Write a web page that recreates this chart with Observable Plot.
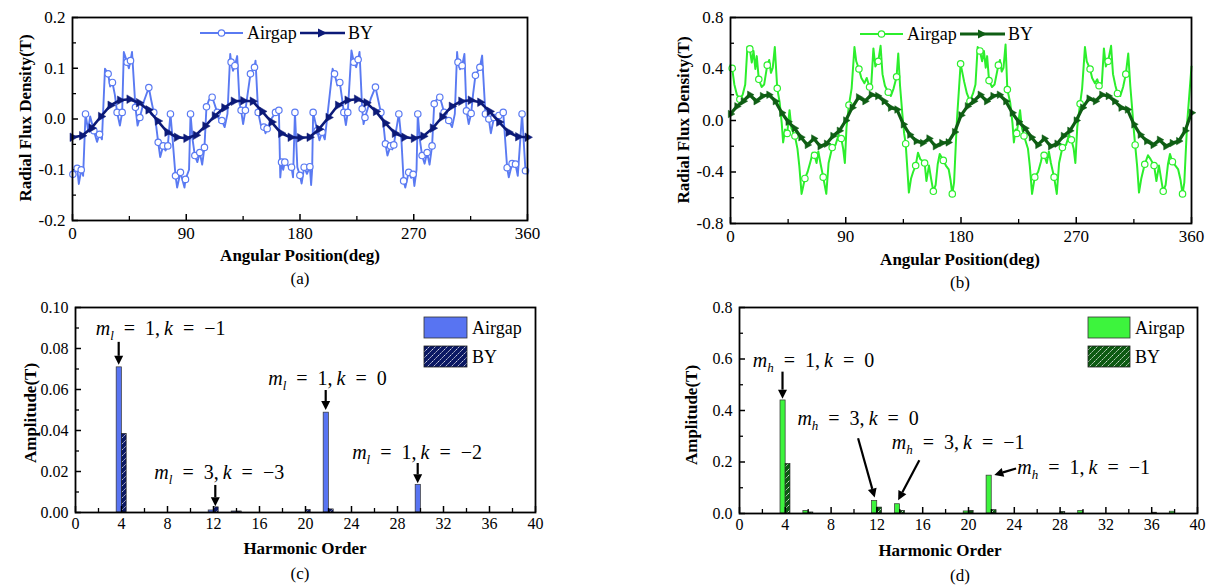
<!DOCTYPE html>
<html><head><meta charset="utf-8">
<script src="https://cdn.jsdelivr.net/npm/d3@7"></script>
<script src="https://cdn.jsdelivr.net/npm/@observablehq/plot@0.6"></script>
<style>
body{margin:0;background:#fff;}
#wrap{position:relative;width:1215px;height:586px;overflow:hidden;font-family:"Liberation Serif","Times New Roman",serif;color:#000;background:#fff;}
.lab{position:absolute;font-weight:bold;font-size:17px;white-space:nowrap;transform:translate(-50%,-50%);}
.ylab{position:absolute;font-weight:bold;font-size:17px;white-space:nowrap;transform:translate(-50%,-50%) rotate(-90deg);}
.cap{position:absolute;font-size:17px;white-space:nowrap;transform:translate(-50%,-50%);}
svg text.ser{font-family:"Liberation Serif","Times New Roman",serif;}
</style></head><body>
<svg width="0" height="0" style="position:absolute"><defs>
<pattern id="hatchNavy" patternUnits="userSpaceOnUse" width="6" height="6"><rect width="6" height="6" fill="#0b1864"/><path d="M0,6L6,0M-1.5,1.5L1.5,-1.5M4.5,7.5L7.5,4.5" stroke="#fff" stroke-width="0.8" stroke-dasharray="2,1"/></pattern>
<pattern id="hatchGreen" patternUnits="userSpaceOnUse" width="6" height="6"><rect width="6" height="6" fill="#0d5a12"/><path d="M0,6L6,0M-1.5,1.5L1.5,-1.5M4.5,7.5L7.5,4.5" stroke="#fff" stroke-width="0.8" stroke-dasharray="2,1"/></pattern>
</defs></svg>
<div id="wrap"></div>
<script>
// ---------------- DATA ----------------
const angleTicks = [0, 90, 180, 270, 360];
const angleMinor = [45, 135, 225, 315];
const fluxTicksA = [-0.2, -0.1, 0, 0.1, 0.2];
const fluxMinorA = [-0.15, -0.05, 0.05, 0.15];
const fluxTicksB = [-0.8, -0.4, 0, 0.4, 0.8];
const fluxMinorB = [-0.6, -0.2, 0.2, 0.6];
const harmonicTicks = [0, 4, 8, 12, 16, 20, 24, 28, 32, 36, 40];
const harmonicMinor = [2, 6, 10, 14, 18, 22, 26, 30, 34, 38];
const ampTicksC = [0, 0.02, 0.04, 0.06, 0.08, 0.10];
const ampMinorC = [0.01, 0.03, 0.05, 0.07, 0.09];
const ampTicksD = [0, 0.2, 0.4, 0.6, 0.8];
const ampMinorD = [0.1, 0.3, 0.5, 0.7];

// (a) Airgap radial flux density, marked samples [deg, T]
const airgapAMarks = [
 [0.3,-0.109],[3.7,-0.097],[6.9,-0.100],[10.3,0.010],[16.9,-0.023],[21.4,-0.030],[28.2,0.089],[31.6,0.072],[35.3,0.013],[39.3,0.013],[43.2,0.112],[45.9,0.115],[49.8,0.023],[53.3,0.003],[60.4,0.062],[64.3,0.013],[67.8,-0.046],[71.7,-0.053],[75.4,-0.053],[77.5,0.010],[81.5,-0.112],[85.4,-0.105],[89.4,-0.119],
 [93.4,0.010],[96.8,-0.072],[100.7,-0.066],[104.4,-0.056],[106.0,0.024],[110.5,0.043],[114.5,0.013],[118.2,-0.003],[125.5,0.112],[128.5,0.105],[133.4,0.017],[136.8,0.017],[140.8,0.089],[144.0,0.102],[146.9,0.013],[151.4,-0.016],[154.0,-0.019],[160.6,0.013],[163.3,0.017],[165.4,-0.085],[168.0,-0.085],[173.3,-0.095],[176.0,0.013],
 [179.9,-0.111],[183.3,-0.095],[187.8,-0.094],[190.4,0.013],[193.6,-0.023],[197.5,-0.026],[207.3,0.089],[211.5,0.072],[214.7,0.013],[217.8,0.013],[222.6,0.112],[226.0,0.117],[229.2,0.020],[231.4,0.003],[239.7,0.063],[244.0,0.013],[247.6,-0.049],[251.6,-0.053],[254.2,-0.051],[258.2,0.010],[262.0,-0.122],[266.0,-0.105],[269.5,-0.109],
 [273.2,0.010],[276.6,-0.072],[280.6,-0.066],[284.5,-0.053],[286.2,0.030],[290.6,0.043],[294.0,0.013],[297.7,-0.003],[305.0,0.112],[308.3,0.105],[311.7,0.016],[315.4,0.011],[318.8,0.086],[322.3,0.102],[326.7,0.010],[329.4,0.000],[333.5,0.003],[337.4,0.007],[340.8,0.013],[343.9,-0.096],[347.8,-0.088],[350.5,-0.089],[355.7,0.010],[358.4,-0.102]
];
// (a) Airgap, unmarked peaks/troughs between samples [deg, T]
const airgapAPeaks = [
 [5.0,-0.128],[8.4,-0.112],[12.3,-0.022],[14.0,0.005],[19.4,-0.045],[23.3,-0.040],[25.7,0.099],[29.8,0.064],[33.5,0.048],[37.5,-0.013],[40.6,0.132],[44.6,0.100],[47.1,0.132],[51.5,-0.013],[56.5,0.035],[62.2,0.038],[65.8,-0.005],[69.4,-0.075],[73.6,-0.062],[79.2,-0.040],[82.8,-0.135],[88.6,-0.135],[92.2,-0.100],
 [95.0,-0.040],[98.8,-0.085],[102.6,-0.090],[108.0,0.038],[112.3,0.030],[116.3,-0.006],[120.4,-0.016],[122.6,0.010],[124.8,0.128],[127.0,0.095],[130.3,0.124],[132.2,0.030],[135.0,-0.010],[138.6,0.050],[144.8,0.115],[149.0,-0.012],[152.7,-0.028],[157.3,0.000],[164.4,-0.115],[166.7,-0.100],[170.5,-0.092],[174.5,-0.115],[177.9,-0.095],
 [181.3,-0.127],[185.5,-0.108],[188.8,-0.130],[189.6,-0.100],[195.4,-0.042],[199.6,-0.040],[205.8,0.099],[209.6,0.066],[213.0,0.045],[216.3,-0.012],[220.7,0.135],[224.4,0.102],[227.1,0.132],[230.3,-0.010],[236.0,0.040],[242.0,0.036],[245.8,-0.005],[249.2,-0.072],[253.0,-0.060],[260.2,-0.040],[263.3,-0.135],[268.0,-0.116],[270.5,-0.132],[272.2,-0.100],
 [274.8,-0.040],[278.6,-0.088],[282.5,-0.090],[288.0,0.038],[292.2,0.030],[296.0,-0.006],[300.3,-0.016],[302.5,0.010],[304.3,0.132],[306.6,0.098],[310.1,0.128],[313.5,-0.010],[317.0,0.050],[324.1,0.125],[331.0,-0.028],[345.2,-0.115],[352.3,-0.112],[360.0,-0.108]
];
// (a) Back-yoke (BY) [deg, T]
const byA = [
 [0,-0.036],[7.5,-0.033],[15,-0.018],[22.5,0.005],[30,0.027],[37.5,0.037],[45,0.039],[52.5,0.032],[60,0.018],[67.5,-0.004],[75,-0.026],[82.5,-0.036],[90,-0.038],[97.5,-0.032],[105,-0.014],[112.5,0.006],[120,0.022],[127.5,0.035],[135,0.036],[142.5,0.035],[150,0.015],[157.5,-0.006],[165,-0.028],[172.5,-0.036],[180,-0.037],[187.5,-0.036],[195,-0.020],[202.5,0.003],[210,0.027],[217.5,0.037],[225,0.039],[232.5,0.032],[240,0.015],[247.5,-0.008],[255,-0.028],[262.5,-0.036],[270,-0.038],[277.5,-0.034],[285,-0.018],[292.5,0.004],[300,0.025],[307.5,0.035],[315,0.037],[322.5,0.033],[330,0.015],[337.5,-0.006],[345,-0.026],[352.5,-0.035],[360,-0.036]
];

// (b) Airgap, marked samples [deg, T]
const airgapBMarks = [
 [1.3,0.405],[7.3,0.165],[15.1,0.556],[22.1,0.32],[28.7,0.43],[36.5,0.25],[44.3,-0.10],[50.3,-0.12],[58.1,-0.45],[65.6,-0.27],[72.4,-0.44],[79.4,-0.21],[86.5,-0.14],
 [92.5,0.12],[100.3,0.40],[108.6,0.26],[115.4,0.46],[123.2,0.22],[129.7,0.34],[136.8,-0.18],[144.6,-0.35],[151.6,-0.33],[158.4,-0.55],[166.2,-0.31],[173.2,-0.57],
 [179.7,0.44],[187.0,0.15],[194.8,0.54],[201.9,0.31],[209.2,0.43],[216.2,0.24],[223.5,-0.10],[229.2,-0.12],[237.6,-0.44],[244.9,-0.27],[252.7,-0.44],[259.2,-0.21],[266.2,-0.15],
 [273.0,0.13],[280.8,0.40],[287.8,0.27],[294.9,0.46],[302.2,0.21],[308.7,0.36],[316.0,-0.19],[323.5,-0.34],[330.8,-0.35],[337.9,-0.55],[345.1,-0.32],[353.0,-0.57]
];
// (b) Airgap, unmarked peaks/troughs [deg, T]
const airgapBPeaks = [
 [0,0.43],[3.0,0.28],[5.0,0.20],[9.5,0.20],[11.5,0.28],[13.2,0.57],[16.6,0.45],[18.0,0.54],[19.4,0.40],[20.5,0.50],[24.3,0.26],[26.3,0.28],[30.2,0.47],[31.6,0.37],[33.0,0.41],[34.6,0.57],[38.4,0.14],[40.0,-0.02],[41.1,-0.17],[42.6,-0.07],[46.1,0.08],[47.6,-0.06],[52.3,-0.22],[53.8,-0.36],[55.5,-0.57],[60.2,-0.40],[62.4,-0.32],[64.2,-0.25],[67.2,-0.33],[68.6,-0.24],[70.2,-0.33],[74.8,-0.57],[76.6,-0.33],[82.0,-0.19],[84.4,-0.11],[88.0,-0.22],[89.3,-0.33],[90.6,-0.05],
 [94.6,0.25],[96.8,0.57],[98.2,0.46],[102.2,0.33],[104.6,0.29],[106.4,0.33],[110.0,0.29],[111.6,0.56],[113.1,0.42],[117.2,0.58],[118.7,0.36],[120.6,0.27],[125.2,0.19],[127.4,0.25],[131.0,0.52],[132.4,0.27],[134.2,0.05],[135.6,-0.10],[138.0,-0.36],[139.3,-0.56],[141.0,-0.45],[142.6,-0.40],[146.4,-0.25],[148.2,-0.30],[153.0,-0.47],[155.0,-0.35],[156.6,-0.45],[160.2,-0.50],[161.8,-0.34],[163.4,-0.26],[168.2,-0.35],[170.4,-0.38],[171.8,-0.46],[174.6,-0.48],[176.8,0.0],
 [182.5,0.30],[184.6,0.21],[189.4,0.21],[191.3,0.28],[193.0,0.57],[196.5,0.46],[197.9,0.54],[199.3,0.41],[200.4,0.50],[204.2,0.26],[206.2,0.28],[210.4,0.47],[211.8,0.38],[213.2,0.41],[214.8,0.59],[218.4,0.14],[220.2,-0.02],[221.3,-0.17],[222.6,-0.07],[226.1,0.08],[227.6,-0.06],[232.3,-0.22],[233.8,-0.36],[235.5,-0.57],[240.2,-0.40],[242.4,-0.32],[244.0,-0.25],[247.0,-0.33],[248.6,-0.24],[250.2,-0.33],[254.8,-0.57],[256.6,-0.33],[262.0,-0.19],[264.4,-0.11],[268.0,-0.22],[269.3,-0.33],[270.8,-0.05],
 [274.6,0.25],[276.8,0.57],[278.2,0.46],[282.4,0.33],[284.6,0.29],[286.4,0.32],[290.0,0.29],[291.6,0.56],[293.1,0.42],[297.2,0.58],[298.7,0.36],[300.6,0.27],[304.4,0.19],[306.6,0.26],[310.6,0.52],[312.2,0.27],[314.0,0.05],[315.0,-0.08],[317.6,-0.36],[319.0,-0.56],[320.8,-0.45],[322.0,-0.40],[326.0,-0.27],[328.0,-0.30],[332.6,-0.47],[334.6,-0.35],[336.2,-0.45],[339.8,-0.50],[341.6,-0.34],[343.2,-0.26],[347.4,-0.35],[349.6,-0.38],[351.4,-0.46],[354.4,-0.48],[356.6,-0.02],[360,0.42]
];
// (b) Back-yoke (BY) [deg, T]
const byB = [
 [0,0.05],[5,0.11],[10,0.15],[15,0.20],[20,0.15],[25,0.19],[30,0.20],[35,0.15],[40,0.06],[45,-0.01],[50,-0.06],[55,-0.13],[60,-0.19],[65,-0.14],[70,-0.20],[75,-0.18],[80,-0.12],[85,-0.08],[90,0.0],
 [95,0.10],[100,0.18],[105,0.15],[110,0.20],[115,0.19],[120,0.15],[125,0.10],[130,0.085],[135,-0.03],[140,-0.11],[145,-0.16],[150,-0.175],[155,-0.14],[160,-0.20],[165,-0.175],[170,-0.17],[175,-0.09],
 [180,0.04],[185,0.11],[190,0.15],[195,0.20],[200,0.15],[205,0.19],[210,0.20],[215,0.15],[220,0.06],[225,-0.01],[230,-0.06],[235,-0.13],[240,-0.19],[245,-0.14],[250,-0.20],[255,-0.18],[260,-0.12],[265,-0.08],[270,0.0],
 [275,0.10],[280,0.17],[285,0.15],[290,0.20],[295,0.19],[300,0.15],[305,0.10],[310,0.085],[315,-0.03],[320,-0.11],[325,-0.16],[330,-0.19],[335,-0.15],[340,-0.20],[345,-0.175],[350,-0.16],[355,-0.08],[360,0.06]
];

// (c),(d) harmonic spectra
const harmonics = [2,4,6,8,10,12,14,16,18,20,22,24,26,28,30,32,34,36,38];
const airgapC   = [0,0.0708,0,0,0,0.0010,0.0005,0,0,0,0.0487,0,0,0,0.0135,0,0,0,0];
const byC       = [0,0.0383,0,0,0,0.0025,0.0005,0,0,0.0012,0.0015,0,0,0,0,0,0,0,0];
const airgapD   = [0,0.439,0.010,0,0,0.049,0.036,0,0,0.008,0.147,0,0,0,0.010,0,0,0,0.007];
const byD       = [0,0.192,0.004,0,0,0.023,0.010,0,0,0.010,0.013,0,0,0.006,0,0,0,0.003,0];

// ---------------- STYLE ----------------
const FONT = '"Liberation Serif","Times New Roman",serif';
const BLUE = "#5a7af2", NAVY = "#0c1a78", GREEN = "#2cee2c", DKGREEN = "#0f5e14";
const BARBLUE = "#5874f2", BARGREEN = "#3df43d";

const wrap = document.getElementById("wrap");
function place(node, left, top) {
  node.style.position = "absolute"; node.style.left = left + "px"; node.style.top = top + "px";
  wrap.appendChild(node);
}
function label(text, x, y, cls) {
  const d = document.createElement("div"); d.className = cls; d.textContent = text;
  d.style.left = x + "px"; d.style.top = y + "px"; wrap.appendChild(d);
}
function innerTicks(xT, xM, yT, yM, fw, fh) {
  return [
    Plot.tickX(xT, {x: d => d, insetTop: fh - 6, stroke: "#000", strokeWidth: 1.5}),
    Plot.tickX(xM, {x: d => d, insetTop: fh - 4, stroke: "#000", strokeWidth: 1.3}),
    Plot.tickY(yT, {y: d => d, insetRight: fw - 6, stroke: "#000", strokeWidth: 1.5}),
    Plot.tickY(yM, {y: d => d, insetRight: fw - 4, stroke: "#000", strokeWidth: 1.3})
  ];
}
const byX = d => d[0], byY = d => d[1];
const sortDeg = arr => arr.slice().sort((a, b) => a[0] - b[0]);

function fluxPanel({w, h, ml, mr, mt, mb, ydom, yT, yM, air, airMarks, by, cAir, cBy, airW, byW, triR}) {
  const fw = w - ml - mr, fh = h - mt - mb;
  return Plot.plot({
    width: w, height: h, marginLeft: ml, marginRight: mr, marginTop: mt, marginBottom: mb,
    style: {fontFamily: FONT, fontSize: "17px", color: "#000", background: "none", overflow: "visible"},
    x: {domain: [0, 360]}, y: {domain: ydom},
    marks: [
      Plot.axisX({ticks: angleTicks, tickSize: 0, tickPadding: 6, label: null, tickFormat: d => String(d)}),
      Plot.axisY({ticks: yT, tickSize: 0, tickPadding: 7, label: null, tickFormat: d => d.toFixed(1)}),
      ...innerTicks(angleTicks, angleMinor, yT, yM, fw, fh),
      Plot.line(air, {x: byX, y: byY, stroke: cAir, strokeWidth: airW}),
      Plot.dot(airMarks, {x: byX, y: byY, r: 3.2, fill: "white", stroke: cAir, strokeWidth: 1.2}),
      Plot.line(by, {x: byX, y: byY, stroke: cBy, strokeWidth: byW}),
      Plot.dot(by, {x: byX, y: byY, symbol: "triangle", r: triR, fill: cBy, stroke: cBy, strokeWidth: 0.5, rotate: 90}),
      Plot.frame({stroke: "#000", strokeWidth: 1.8})
    ]
  });
}
function lineLegend(plot, x0, y0, cAir, cBy, airW, byW) {
  const g = d3.select(plot).append("g").attr("text-anchor", "start");
  g.append("line").attr("x1", x0).attr("x2", x0 + 43).attr("y1", y0).attr("y2", y0).attr("stroke", cAir).attr("stroke-width", airW);
  g.append("circle").attr("cx", x0 + 21.5).attr("cy", y0).attr("r", 3.2).attr("fill", "#fff").attr("stroke", cAir).attr("stroke-width", 1.2);
  g.append("text").attr("class", "ser").style("font-size", "18px").attr("x", x0 + 47).attr("y", y0 + 6).text("Airgap");
  const x1 = x0 + 100;
  g.append("line").attr("x1", x1).attr("x2", x1 + 45).attr("y1", y0).attr("y2", y0).attr("stroke", cBy).attr("stroke-width", byW);
  g.append("path").attr("d", `M${x1 + 18},${y0 - 4.5}L${x1 + 27},${y0}L${x1 + 18},${y0 + 4.5}Z`).attr("fill", cBy);
  g.append("text").attr("class", "ser").style("font-size", "18px").attr("x", x1 + 48).attr("y", y0 + 6).text("BY");
}

// ---------- (a) ----------
const plotA = fluxPanel({w: 560, h: 290, ml: 72, mr: 33, mt: 17, mb: 70, ydom: [-0.2, 0.2], yT: fluxTicksA, yM: fluxMinorA,
  air: sortDeg(airgapAMarks.concat(airgapAPeaks)), airMarks: airgapAMarks, by: byA, cAir: BLUE, cBy: NAVY, airW: 1.9, byW: 2.6, triR: 3.2});
lineLegend(plotA, 200, 33, BLUE, NAVY, 1.9, 2.6);
place(plotA, 0, 0);

// ---------- (b) ----------
const plotB = fluxPanel({w: 565, h: 290, ml: 80, mr: 24, mt: 17, mb: 67, ydom: [-0.8, 0.8], yT: fluxTicksB, yM: fluxMinorB,
  air: sortDeg(airgapBMarks.concat(airgapBPeaks)), airMarks: airgapBMarks, by: byB, cAir: GREEN, cBy: DKGREEN, airW: 2, byW: 3.2, triR: 2.8});
lineLegend(plotB, 210, 34, GREEN, DKGREEN, 2, 3.2);
place(plotB, 650, 0);

// ---------- (c), (d) ----------
function mathNote(g, sx, sy, n, sub) {
  const t = g.append("text").attr("class", "ser").attr("x", sx.apply(n.tx)).attr("y", sy.apply(n.ty) + 7)
    .attr("text-anchor", "start").style("font-size", "20px").style("white-space", "pre");
  t.append("tspan").attr("font-style", "italic").text("m");
  t.append("tspan").attr("font-style", "italic").style("font-size", "13px").attr("dy", 5).text(sub);
  t.append("tspan").attr("dy", -5).text("\u2002=\u2002" + n.m + ",\u2009");
  t.append("tspan").attr("font-style", "italic").text("k");
  t.append("tspan").text("\u2002=\u2002" + n.k);
  const x1 = sx.apply(n.a[0]), y1 = sy.apply(n.a[1]), x2 = sx.apply(n.a[2]), y2 = sy.apply(n.a[3]);
  const ang = Math.atan2(y2 - y1, x2 - x1), L = 9, W = 4.5;
  const bx = x2 - L * Math.cos(ang), bY = y2 - L * Math.sin(ang);
  g.append("line").attr("x1", x1).attr("y1", y1).attr("x2", bx).attr("y2", bY).attr("stroke", "#000").attr("stroke-width", 2.2);
  g.append("path").attr("d", `M${x2},${y2}L${bx + W * Math.sin(ang)},${bY - W * Math.cos(ang)}L${bx - W * Math.sin(ang)},${bY + W * Math.cos(ang)}Z`).attr("fill", "#000");
}
function barPanel({w, h, ml, mr, mt, mb, ydom, yT, yM, fmt, air, by, cAir, hatch, notes, sub, leg}) {
  const fw = w - ml - mr, fh = h - mt - mb;
  const rows = harmonics.map((hh, i) => ({h: hh, air: air[i], by: by[i]}));
  const plot = Plot.plot({
    width: w, height: h, marginLeft: ml, marginRight: mr, marginTop: mt, marginBottom: mb,
    style: {fontFamily: FONT, fontSize: "16px", color: "#000", background: "none", overflow: "visible"},
    x: {domain: [0, 40]}, y: {domain: ydom},
    marks: [
      Plot.axisX({ticks: harmonicTicks, tickSize: 0, tickPadding: 5, label: null, tickFormat: d => String(d)}),
      Plot.axisY({ticks: yT, tickSize: 0, tickPadding: 7, label: null, tickFormat: fmt}),
      Plot.rect(rows, {filter: d => d.air > 0, x1: d => d.h - 0.42, x2: d => d.h + 0.03, y1: () => 0, y2: d => d.air, fill: cAir, stroke: "#333", strokeWidth: 0.7}),
      Plot.rect(rows, {filter: d => d.by > 0, x1: d => d.h + 0.03, x2: d => d.h + 0.45, y1: () => 0, y2: d => d.by, fill: hatch, stroke: "#222", strokeWidth: 0.7}),
      ...innerTicks(harmonicTicks, harmonicMinor, yT, yM, fw, fh),
      Plot.frame({stroke: "#000", strokeWidth: 1.8})
    ]
  });
  const sx = plot.scale("x"), sy = plot.scale("y");
  const g = d3.select(plot).append("g");
  notes.forEach(n => mathNote(g, sx, sy, n, sub));
  const lg = d3.select(plot).append("g").attr("text-anchor", "start");
  lg.append("rect").attr("x", leg[0]).attr("y", leg[1]).attr("width", leg[2]).attr("height", 21).attr("fill", cAir).attr("stroke", "#333").attr("stroke-width", 0.8);
  lg.append("rect").attr("x", leg[0]).attr("y", leg[1] + 29).attr("width", leg[2]).attr("height", 21).attr("fill", hatch).attr("stroke", "#222").attr("stroke-width", 0.8);
  lg.append("text").attr("class", "ser").style("font-size", "18px").attr("x", leg[0] + leg[2] + 5).attr("y", leg[1] + 17).text("Airgap");
  lg.append("text").attr("class", "ser").style("font-size", "18px").attr("x", leg[0] + leg[2] + 5).attr("y", leg[1] + 46).text("BY");
  return plot;
}

const plotC = barPanel({w: 560, h: 296, ml: 75, mr: 25, mt: 17, mb: 74, ydom: [0, 0.10], yT: ampTicksC, yM: ampMinorC,
  fmt: d => d.toFixed(2), air: airgapC, by: byC, cAir: BARBLUE, hatch: "url(#hatchNavy)", sub: "l", leg: [424, 27, 43],
  notes: [
    {tx: 1.8, ty: 0.0897, m: "1", k: "\u22121", a: [3.8, 0.083, 3.8, 0.0718]},
    {tx: 6.9, ty: 0.0197, m: "3", k: "\u22123", a: [12.2, 0.0132, 12.2, 0.0028]},
    {tx: 16.8, ty: 0.0654, m: "1", k: "0", a: [21.8, 0.0595, 21.8, 0.0497]},
    {tx: 24.1, ty: 0.0294, m: "1", k: "\u22122", a: [29.8, 0.0239, 29.8, 0.0140]}
  ]});
place(plotC, 0, 290);

const plotD = barPanel({w: 565, h: 296, ml: 89, mr: 18, mt: 17, mb: 73, ydom: [0, 0.8], yT: ampTicksD, yM: ampMinorD,
  fmt: d => d.toFixed(1), air: airgapD, by: byD, cAir: BARGREEN, hatch: "url(#hatchGreen)", sub: "h", leg: [438, 27, 42],
  notes: [
    {tx: 1.2, ty: 0.595, m: "1", k: "0", a: [3.8, 0.549, 3.8, 0.444]},
    {tx: 5.1, ty: 0.368, m: "3", k: "0", a: [10.4, 0.290, 11.85, 0.060]},
    {tx: 13.35, ty: 0.277, m: "3", k: "\u22121", a: [15.75, 0.205, 13.9, 0.050]},
    {tx: 24.3, ty: 0.179, m: "1", k: "\u22121", a: [24.2, 0.173, 22.3, 0.148]}
  ]});
place(plotD, 650, 290);

// ---------- axis titles & captions ----------
label("Radial Flux Density(T)", 26, 118, "ylab");
label("Angular Position(deg)", 300, 256, "lab");
label("(a)", 300, 279, "cap");
label("Radial Flux Density(T)", 684, 120, "ylab");
label("Angular Position(deg)", 960, 260, "lab");
label("(b)", 960, 283, "cap");
label("Amplitude(T)", 31, 413, "ylab");
label("Harmonic Order", 305, 549, "lab");
label("(c)", 300, 574, "cap");
label("Amplitude(T)", 692, 415, "ylab");
label("Harmonic Order", 940, 551, "lab");
label("(d)", 960, 576, "cap");
</script></body></html>
